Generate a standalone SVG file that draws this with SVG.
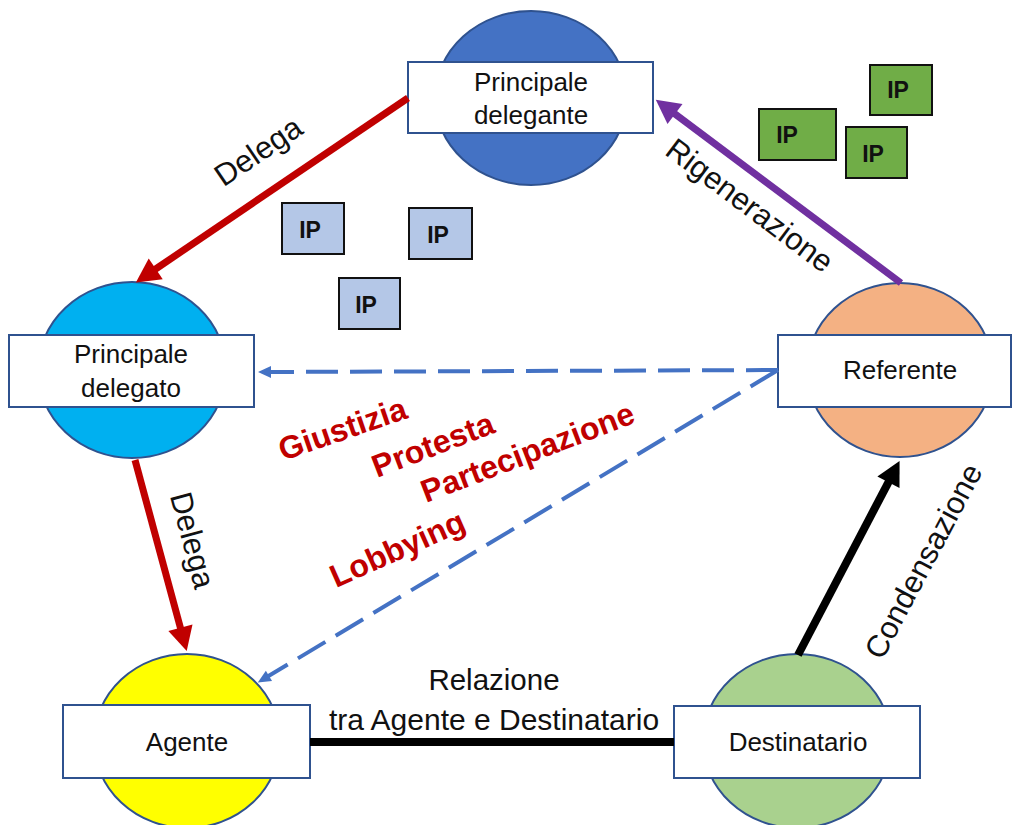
<svg xmlns="http://www.w3.org/2000/svg" width="1013" height="825" viewBox="0 0 1013 825">
  <style>
    .blob { stroke: #2F528F; stroke-width: 2; }
    .box { fill: #FFFFFF; stroke: #2F528F; stroke-width: 2; }
    .lbl { font-family: "Liberation Sans", Arial, sans-serif; font-size: 26px; fill: #111111; text-anchor: middle; }
    .edge { font-family: "Liberation Sans", Arial, sans-serif; font-size: 31px; fill: #111111; text-anchor: middle; }
    .rel { font-family: "Liberation Sans", Arial, sans-serif; font-size: 30px; fill: #111111; text-anchor: middle; }
    .red { font-family: "Liberation Sans", Arial, sans-serif; font-size: 32px; font-weight: bold; fill: #C00000; }
    .ip { stroke: #111111; stroke-width: 2; }
    .ipt { font-family: "Liberation Sans", Arial, sans-serif; font-size: 23px; font-weight: bold; fill: #111111; text-anchor: middle; }
    .dash { fill: none; stroke: #4472C4; stroke-width: 4; stroke-dasharray: 32 12; }
  </style>
  <defs>
    <marker id="headRed" markerUnits="userSpaceOnUse" markerWidth="26" markerHeight="26" refX="1" refY="12.5" orient="auto" overflow="visible">
      <path d="M0,0 L24,12.5 L0,25 z" fill="#C00000"/>
    </marker>
    <marker id="headPurple" markerUnits="userSpaceOnUse" markerWidth="26" markerHeight="26" refX="1" refY="12.5" orient="auto" overflow="visible">
      <path d="M0,0 L24,12.5 L0,25 z" fill="#7030A0"/>
    </marker>
    <marker id="headBlack" markerUnits="userSpaceOnUse" markerWidth="26" markerHeight="26" refX="1" refY="12.5" orient="auto" overflow="visible">
      <path d="M0,0 L24,12.5 L0,25 z" fill="#000000"/>
    </marker>
    <marker id="headBlue" markerUnits="userSpaceOnUse" markerWidth="16" markerHeight="14" refX="1" refY="6" orient="auto" overflow="visible">
      <path d="M0,0 L13,6 L0,12 z" fill="#4472C4"/>
    </marker>
  </defs>

  <!-- node shapes (ellipse + label box) -->
  <g id="principale-delegante">
    <ellipse class="blob" cx="531" cy="98" rx="96" ry="87" fill="#4472C4"/>
    <rect class="box" x="408" y="62" width="245" height="71"/>
    <text class="lbl" x="531" y="91">Principale</text>
    <text class="lbl" x="531" y="124">delegante</text>
  </g>

  <g id="principale-delegato">
    <ellipse class="blob" cx="132" cy="370" rx="94" ry="88" fill="#00B0F0"/>
    <rect class="box" x="9" y="335" width="245" height="72"/>
    <text class="lbl" x="131" y="363">Principale</text>
    <text class="lbl" x="131" y="397">delegato</text>
  </g>

  <g id="referente">
    <ellipse class="blob" cx="900" cy="370" rx="93" ry="87" fill="#F4B183"/>
    <rect class="box" x="778" y="335" width="233" height="72"/>
    <text class="lbl" x="900" y="379">Referente</text>
  </g>

  <g id="agente">
    <ellipse class="blob" cx="187" cy="741" rx="93" ry="87" fill="#FFFF00"/>
    <rect class="box" x="63" y="705" width="247" height="73"/>
    <text class="lbl" x="187" y="751">Agente</text>
  </g>

  <g id="destinatario">
    <ellipse class="blob" cx="797" cy="741" rx="94" ry="87" fill="#A9D18E"/>
    <rect class="box" x="674" y="706" width="246" height="72"/>
    <text class="lbl" x="798" y="751">Destinatario</text>
  </g>

  <!-- IP tags -->
  <g id="ip-blue">
    <rect class="ip" x="282" y="203" width="62" height="51" fill="#B4C7E7"/>
    <text class="ipt" x="310" y="238">IP</text>
    <rect class="ip" x="409" y="208" width="63" height="51" fill="#B4C7E7"/>
    <text class="ipt" x="438" y="243">IP</text>
    <rect class="ip" x="339" y="278" width="61" height="51" fill="#B4C7E7"/>
    <text class="ipt" x="366" y="313">IP</text>
  </g>

  <g id="ip-green">
    <rect class="ip" x="870" y="65" width="62" height="50" fill="#70AD47"/>
    <text class="ipt" x="898" y="98">IP</text>
    <rect class="ip" x="759" y="109" width="77" height="51" fill="#70AD47"/>
    <text class="ipt" x="787" y="143">IP</text>
    <rect class="ip" x="846" y="127" width="61" height="51" fill="#70AD47"/>
    <text class="ipt" x="873" y="162">IP</text>
  </g>

  <!-- connectors -->
  <g id="connectors">
    <line x1="408" y1="98" x2="154.9" y2="269.5" stroke="#C00000" stroke-width="7" marker-end="url(#headRed)"/>
    <line x1="135" y1="460" x2="180.7" y2="628.8" stroke="#C00000" stroke-width="7" marker-end="url(#headRed)"/>
    <line x1="901" y1="283" x2="674.2" y2="113.4" stroke="#7030A0" stroke-width="7" marker-end="url(#headPurple)"/>
    <line x1="798" y1="655" x2="888.9" y2="481.3" stroke="#000000" stroke-width="8" marker-end="url(#headBlack)"/>
    <line x1="310" y1="742" x2="674" y2="742" stroke="#000000" stroke-width="8"/>
    <line class="dash" x1="778" y1="370" x2="270" y2="372" marker-end="url(#headBlue)"/>
    <line class="dash" x1="778" y1="370" x2="268.1" y2="676.3" marker-end="url(#headBlue)"/>

    <!-- connector labels -->
    <text class="edge" transform="translate(258,151) rotate(-34)" y="11">Delega</text>
    <text class="edge" transform="translate(193,540) rotate(75)" y="11">Delega</text>
    <text class="edge" transform="translate(750,205) rotate(37)" y="11">Rigenerazione</text>
    <text class="edge" transform="translate(923,561) rotate(-62)" y="11">Condensazione</text>
    <text class="rel" x="494" y="690" style="font-size:29.5px">Relazione</text>
    <text class="rel" x="494" y="730">tra Agente e Destinatario</text>
  </g>

  <!-- red keywords -->
  <g id="keywords">
    <text class="red" transform="translate(283,461) rotate(-19)">Giustizia</text>
    <text class="red" transform="translate(377,478) rotate(-21)">Protesta</text>
    <text class="red" transform="translate(426,503) rotate(-21)">Partecipazione</text>
    <text class="red" transform="translate(336,588) rotate(-24)">Lobbying</text>
  </g>
</svg>
